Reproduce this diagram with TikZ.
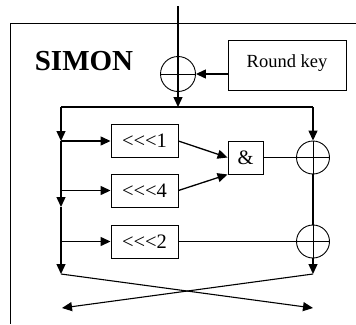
\documentclass[tikz,border=0pt]{standalone}
\usepackage{fontspec}
\setmainfont{Liberation Serif}
\usetikzlibrary{arrows.meta,positioning,calc}
\tikzset{
  opbox/.style={draw,line width=0.9pt,minimum width=67pt,minimum height=33pt,inner sep=0pt,
    font=\fontsize{20.5}{20.5}\selectfont},
  xor/.style={draw,circle,line width=0.9pt,minimum size=33pt,inner sep=0pt,
    path picture={\draw[line width=0.9pt] (path picture bounding box.north) -- (path picture bounding box.south)
      (path picture bounding box.west) -- (path picture bounding box.east);}},
  arrow/.style={-{Triangle[length=10pt,width=9pt]},line width=1.3pt},
  wire/.style={line width=0.9pt}
}
\begin{document}
\begin{tikzpicture}[x=1pt,y=-1pt]
  \useasboundingbox (0,0) rectangle (356,324);
  % frame
  \draw[line width=1pt] (356,23) -| (10,324);
  \node[font=\fontsize{29}{29}\selectfont\bfseries] (title) at (84,61) {SIMON};
  % round key
  \coordinate (in) at (178,6);
  \node[xor,minimum width=35pt] (x1) at (178,74) {};
  \node[draw,line width=0.9pt,minimum width=118pt,minimum height=50pt] (key) at (287,65) {};
  \node[font=\fontsize{18.5}{18.5}\selectfont] (keytext) at (287,63) {Round key};
  \coordinate (top) at (178,107);
  \coordinate (tl) at (61,107);
  \coordinate (tr) at (313,107);
  \draw[arrow] (in) -- (top);
  \draw[arrow] (key.west |- x1.east) -- (x1.east);
  \draw[line width=1.2pt] (tl) -- (tr);
  % left branch
  \coordinate (b1) at (61,141);
  \coordinate (b2) at (61,190.5);
  \coordinate (b3) at (61,241.5);
  \coordinate (m) at (61,207);
  \coordinate (bl) at (61,274);
  \node[opbox] (r1) at (144.5,141) {<{}<{}<1};
  \node[opbox] (r4) at (144.5,190.5) {<{}<{}<4};
  \node[opbox] (r2) at (144.5,241.5) {<{}<{}<2};
  \node[opbox,minimum width=35pt] (and) at (245.5,157.5) {\&};
  \draw[arrow] (tl) -- (b1);
  \draw[arrow] (b1) -- (m);
  \draw[arrow] (m) -- (bl);
  \draw[arrow] (b1) -- (r1);
  \draw[arrow] (b2) -- (r4);
  \draw[arrow] (b3) -- (r2);
  \draw[arrow] (r1.east) -- (and.west);
  \draw[arrow] (r4.east) -- (and.south west);
  % right branch
  \node[xor] (x2) at (313,157.5) {};
  \node[xor] (x3) at (313,241.5) {};
  \coordinate (br) at (313,274);
  \draw[arrow] (tr) -- (x2.north);
  \draw[line width=1.3pt] (x2.south) -- (x3.north);
  \draw[arrow] (x3.south) -- (br);
  \draw[wire] (and.east) -- (x2.west);
  \draw[wire] (r2.east) -- (x3.west);
  % swap
  \coordinate (outl) at (62,308);
  \coordinate (outr) at (313,308);
  \draw[arrow,line width=1.1pt] (bl) -- (outr);
  \draw[arrow,line width=1.1pt] (br) -- (outl);
\end{tikzpicture}
\end{document}
